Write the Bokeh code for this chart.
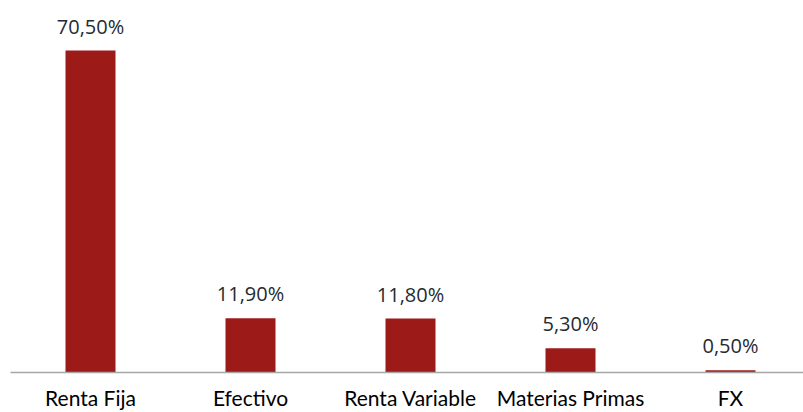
from bokeh.plotting import figure
from bokeh.models import ColumnDataSource, LabelSet, Range1d, FixedTicker
from bokeh.core.properties import value
from bokeh.embed import file_html
from bokeh.resources import INLINE

categories = ["Renta Fija", "Efectivo", "Renta Variable", "Materias Primas", "FX"]
values = [70.5, 11.9, 11.8, 5.3, 0.5]
value_labels = ["70,50%", "11,90%", "11,80%", "5,30%", "0,50%"]

xs = list(range(len(categories)))
src = ColumnDataSource(dict(x=xs, top=values, lab=value_labels, cat=categories))

W, H = 803, 412
p = figure(width=W, height=H, output_backend="svg", toolbar_location=None,
           x_range=Range1d(-0.5, -0.5 + 793 / 160), y_range=Range1d(0, 81.45),
           min_border_left=10, min_border_right=0, min_border_top=0, min_border_bottom=0)
p.outline_line_color = None
p.background_fill_color = "white"
p.border_fill_color = "white"

p.vbar(x="x", top="top", width=0.3125, bottom=0, source=src,
       fill_color="#9C1B18", line_color=None)

labels = LabelSet(x="x", y="top", text="lab", source=src, text_align="center",
                  text_baseline="alphabetic", y_offset=17,
                  text_font=value("Open Sans"), text_font_size=value("20px"),
                  text_color="#262a30")
p.add_layout(labels)

p.yaxis.visible = False
p.xgrid.visible = False
p.ygrid.visible = False
p.xaxis.ticker = FixedTicker(ticks=xs)
p.xaxis.major_label_overrides = {i: c for i, c in enumerate(categories)}
p.xaxis.major_tick_line_color = None
p.xaxis.minor_tick_line_color = None
p.xaxis.axis_line_color = "#a6a6a6"
p.xaxis.axis_line_width = 1.5
p.xaxis.major_label_text_font = "Lato"
p.xaxis.major_label_text_font_size = "21px"
p.xaxis.major_label_text_line_height = 1.0
p.xaxis.major_label_text_baseline = "alphabetic"
p.xaxis.major_label_text_color = "#000000"
p.xaxis.major_label_standoff = 6

open("out.html", "w").write(file_html(p, INLINE))
